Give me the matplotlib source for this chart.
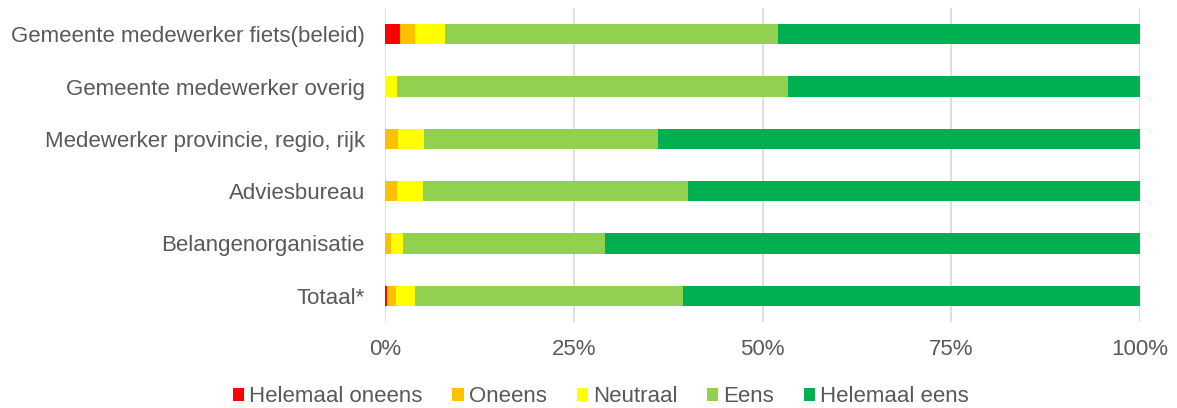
import matplotlib
matplotlib.use("Agg")
import matplotlib.pyplot as plt
import numpy as np

categories = ["Gemeente medewerker fiets(beleid)", "Gemeente medewerker overig",
              "Medewerker provincie, regio, rijk", "Adviesbureau",
              "Belangenorganisatie", "Totaal*"]
series_names = ["Helemaal oneens", "Oneens", "Neutraal", "Eens", "Helemaal eens"]
helemaal_oneens = [2.0, 0.0, 0.0, 0.0, 0.0, 0.3]
oneens = [2.0, 0.0, 1.7, 1.6, 0.8, 1.1]
neutraal = [4.0, 1.6, 3.5, 3.4, 1.6, 2.6]
eens = [44.1, 51.8, 31.0, 35.1, 26.8, 35.5]
helemaal_eens = [47.9, 46.6, 63.8, 59.9, 70.8, 60.5]
xticklabels = ["0%", "25%", "50%", "75%", "100%"]

colors = ["#FF0000", "#FFC000", "#FFFF00", "#92D050", "#00B050"]
plt.rcParams['font.family'] = ['Liberation Sans', 'DejaVu Sans']

fig = plt.figure(figsize=(11.77, 4.08), dpi=100)
ax = fig.add_axes([385/1177, 1-322/408, (1140-385)/1177, (322-8)/408])

y = np.arange(len(categories))
left = np.zeros(len(categories))
for name, vals, c in zip(series_names,
                         [helemaal_oneens, oneens, neutraal, eens, helemaal_eens], colors):
    vals = np.array(vals)
    ax.barh(y, vals, left=left, height=0.39, color=c, label=name, zorder=3)
    left += vals

ax.set_ylim(len(categories) - 0.5, -0.5)
ax.set_xlim(0, 100)
ax.set_xticks([0, 25, 50, 75, 100])
ax.set_xticklabels(xticklabels)
ax.set_yticks(y)
ax.set_yticklabels(categories)
ax.grid(axis='x', color='#D9D9D9', linewidth=1.2, zorder=0)
for s in ax.spines.values():
    s.set_visible(False)
ax.tick_params(axis='both', length=0, labelsize=16, colors='#595959')
ax.tick_params(axis='x', pad=12)
ax.tick_params(axis='y', pad=14.5)

leg = fig.legend(loc='center', bbox_to_anchor=(601/1177, 1-397/408), ncol=5,
                 frameon=False, fontsize=16, handlelength=0.5, handleheight=0.5,
                 handletextpad=0.23, columnspacing=1.35, borderpad=0)
for t in leg.get_texts():
    t.set_color('#595959')

fig.savefig("out.png", dpi=100)
